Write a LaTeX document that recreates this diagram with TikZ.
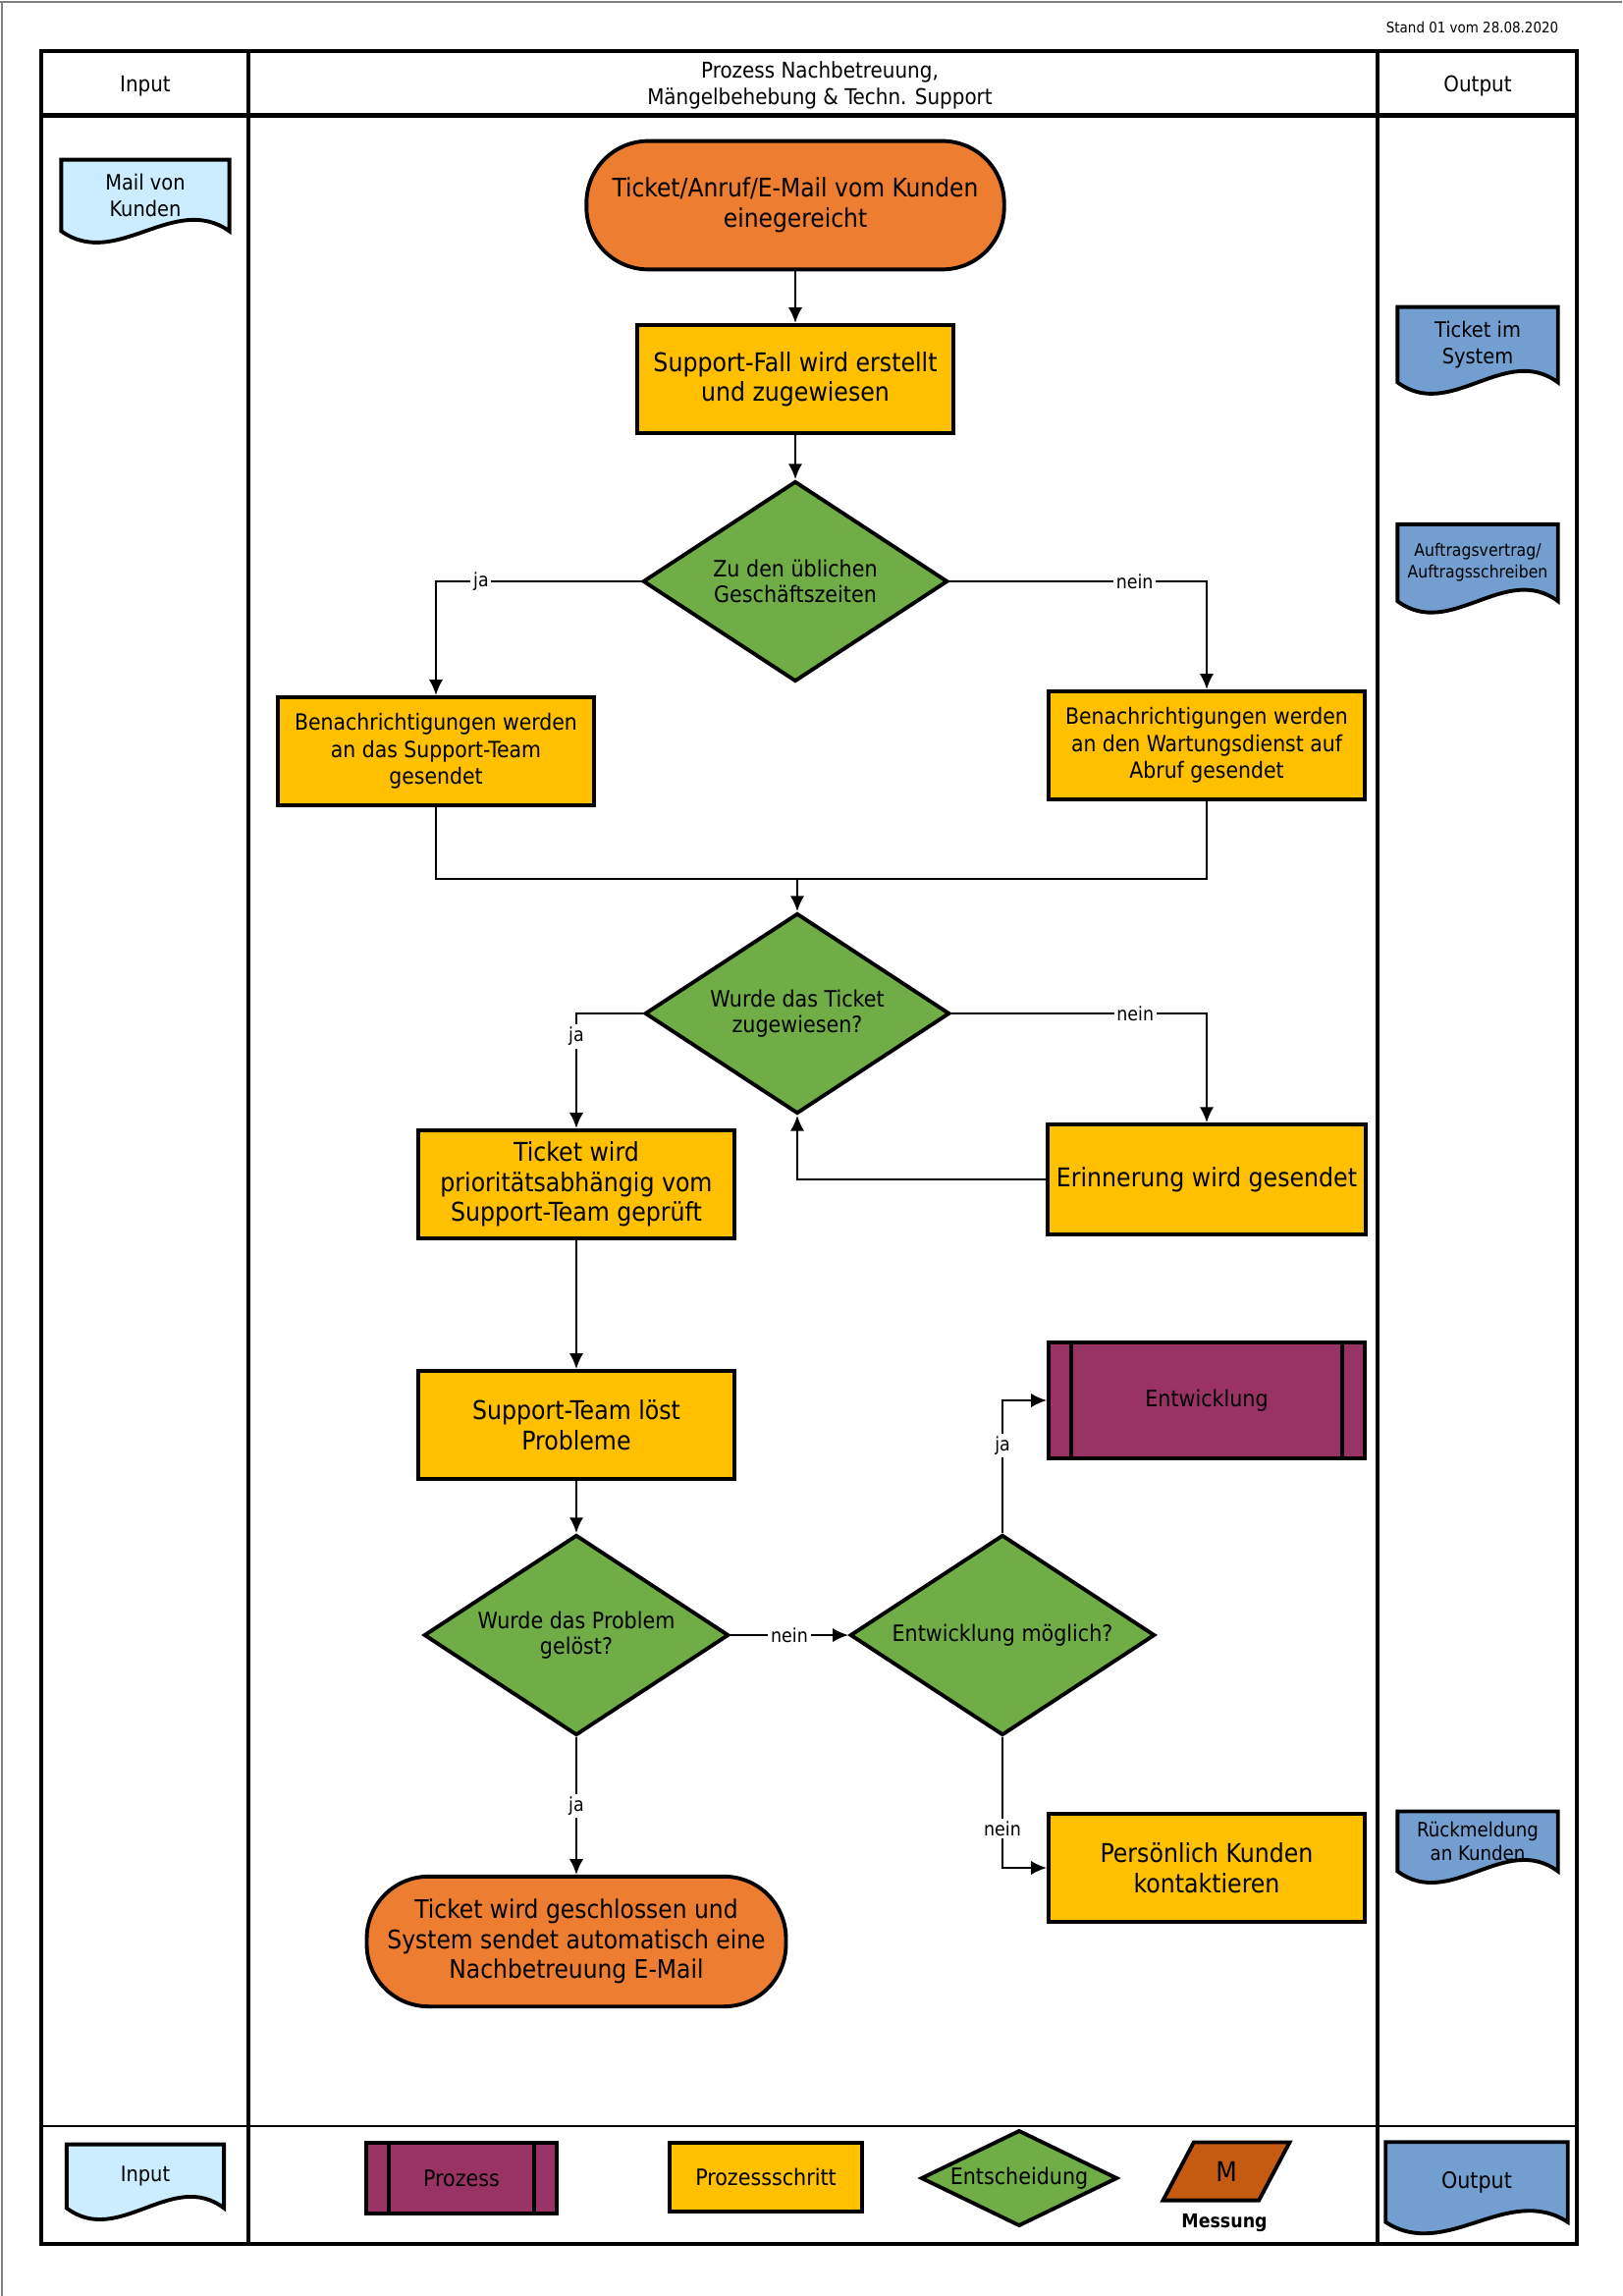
\documentclass[tikz,border=0pt]{standalone}
\usepackage{fontspec}
\setmainfont{DejaVu Sans Condensed}
\usepackage{tikz}
\usetikzlibrary{shapes.geometric, arrows.meta, positioning, calc, backgrounds}

\definecolor{termorange}{HTML}{ED7D31}
\definecolor{stepyellow}{HTML}{FFC000}
\definecolor{decgreen}{HTML}{70AD47}
\definecolor{procpurple}{HTML}{993366}
\definecolor{inblue}{HTML}{CCECFF}
\definecolor{outblue}{HTML}{729FCF}
\definecolor{messbrown}{HTML}{C55A11}

\begin{document}
\begin{tikzpicture}[x=0.0127cm, y=-0.0127cm,
            frame/.style={line width=1.4pt},
            term/.style={rectangle, rounded corners=0.8cm, draw, line width=1.4pt, fill=termorange, align=center, font=\fontsize{9.4}{11}\selectfont},
            stepbox/.style={rectangle, draw, line width=1.4pt, fill=stepyellow, align=center, minimum width=4.09cm, minimum height=1.4cm, font=\fontsize{9.5}{11}\selectfont},
            decision/.style={diamond, aspect=1.52, draw, line width=1.4pt, fill=decgreen, inner sep=0pt, align=center, minimum width=3.94cm, minimum height=2.59cm, font=\fontsize{8.3}{9.6}\selectfont},
            predef/.style={rectangle, draw, line width=1.4pt, fill=procpurple, align=center, font=\fontsize{8.3}{9.6}\selectfont,
                path picture={
                    \draw[line width=1.4pt] ([xshift=0.29cm]path picture bounding box.north west) -- ([xshift=0.29cm]path picture bounding box.south west);
                    \draw[line width=1.4pt] ([xshift=-0.29cm]path picture bounding box.north east) -- ([xshift=-0.29cm]path picture bounding box.south east);}},
            doc/.style={rectangle, inner sep=1pt, align=center, font=\fontsize{7.8}{9.5}\selectfont},
            lbl/.style={fill=white, inner sep=1pt, font=\fontsize{7}{8}\selectfont},
            arrow/.style={-{Latex[length=2mm,width=1.8mm]}, line width=0.7pt},
            link/.style={line width=0.7pt}
        ]
\useasboundingbox (0,0) rectangle (1652,2338);

% Page edge
            \draw[gray, line width=0.6pt] (0,2) -- (1652,2);
            \draw[gray, line width=0.6pt] (2,2) -- (2,2338);

% Table
            \draw[frame] (42,52) rectangle (1606,2285);
            \draw[line width=1.8pt] (42,118) -- (1606,118);
            \draw[frame] (253,52) -- (253,2285);
            \draw[frame] (1403,52) -- (1403,2285);
            \draw[line width=1pt] (42,2165) -- (1606,2165);

            \node[anchor=east, font=\fontsize{5.4}{6.5}\selectfont] (stand) at (1597,28) {Stand 01 vom 28.08.2020};
            \node[font=\fontsize{8}{9.5}\selectfont] (hin) at (148,88) {Input};
            \node[align=center, font=\fontsize{8}{9.8}\selectfont] (hproc) at (835,87) {Prozess Nachbetreuung,\\Mängelbehebung \& Techn. Support};
            \node[font=\fontsize{8}{9.5}\selectfont] (hout) at (1505,88) {Output};

% Input / Output documents
            \node[doc, minimum width=2.16cm, minimum height=0.91cm] (mail) at (148,199) {Mail von\\Kunden};
            \node[doc, minimum width=2.06cm, minimum height=0.96cm] (ticketsys) at (1505,351) {Ticket im\\System};
            \node[doc, minimum width=2.06cm, minimum height=0.98cm, font=\fontsize{6.3}{8}\selectfont] (auftrag) at (1505,573) {Auftragsvertrag/\\Auftragsschreiben};
            \node[doc, minimum width=2.06cm, minimum height=0.76cm, font=\fontsize{7.3}{8.6}\selectfont] (rueck) at (1505,1875) {Rückmeldung\\an Kunden};

% Process
            \node[term, minimum width=5.4cm, minimum height=1.66cm] (start) at (810,209) {Ticket/Anruf/E-Mail vom Kunden\\einegereicht};
            \node[stepbox] (create) at (810,386) {Support-Fall wird erstellt\\und zugewiesen};
            \node[decision] (hours) at (810,592) {Zu den üblichen\\Geschäftszeiten};
            \node[stepbox, font=\fontsize{8.2}{9.9}\selectfont] (notteam) at (444,765) {Benachrichtigungen werden\\an das Support-Team\\gesendet};
            \node[stepbox, font=\fontsize{8.2}{9.9}\selectfont] (notwart) at (1229,759) {Benachrichtigungen werden\\an den Wartungsdienst auf\\Abruf gesendet};
            \coordinate (merge) at (812,895);
            \node[decision] (assigned) at (812,1032) {Wurde das Ticket\\zugewiesen?};
            \node[stepbox] (check) at (587,1206) {Ticket wird\\prioritätsabhängig vom\\Support-Team geprüft};
            \node[stepbox, minimum height=1.42cm] (remind) at (1229,1201) {Erinnerung wird gesendet};
            \node[stepbox] (solve) at (587,1451) {Support-Team löst\\Probleme};
            \node[decision] (solved) at (587,1665) {Wurde das Problem\\gelöst?};
            \node[decision] (devpossible) at (1021,1665) {Entwicklung möglich?};
            \node[predef, minimum width=4.09cm, minimum height=1.5cm] (dev) at (1229,1426) {Entwicklung};
            \node[stepbox] (contact) at (1229,1902) {Persönlich Kunden\\kontaktieren};
            \node[term, minimum width=5.42cm, minimum height=1.68cm] (close) at (587,1977) {Ticket wird geschlossen und\\System sendet automatisch eine\\Nachbetreuung E-Mail};

% Connections
            \draw[arrow] (start) -- (create);
            \draw[arrow] (create) -- (hours);
            \draw[arrow] (hours.west) -| node[lbl, pos=0.39] {ja} (notteam.north);
            \draw[arrow] (hours.east) -| node[lbl, pos=0.36] {nein} (notwart.north);
            \draw[link] (notteam.south) |- (merge) -| (notwart.south);
            \draw[arrow] (merge) -- (assigned.north);
            \draw[arrow] (assigned.west) -| node[lbl, pos=0.6] {ja} (check.north);
            \draw[arrow] (assigned.east) -| node[lbl, pos=0.36] {nein} (remind.north);
            \draw[arrow] (remind.west) -| (assigned.south);
            \draw[arrow] (check) -- (solve);
            \draw[arrow] (solve) -- (solved);
            \draw[arrow] (solved.east) -- node[lbl] {nein} (devpossible.west);
            \draw[arrow] (devpossible.north) |- node[lbl, pos=0.33] {ja} (dev.west);
            \draw[arrow] (devpossible.south) |- node[lbl, pos=0.35] {nein} (contact.west);
            \draw[arrow] (solved.south) -- node[lbl] {ja} (close.north);

% Legend
            \node[doc, minimum width=2.02cm, minimum height=0.81cm] (lin) at (148,2216) {Input};
            \node[predef, minimum width=2.46cm, minimum height=0.91cm] (lproz) at (470,2218) {Prozess};
            \node[stepbox, minimum width=2.48cm, minimum height=0.88cm, font=\fontsize{8.3}{9.6}\selectfont] (lschritt) at (780,2217) {Prozessschritt};
            \node[decision, aspect=2.05, minimum width=2.54cm, minimum height=1.24cm] (lent) at (1038,2218) {Entscheidung};
            \node[trapezium, trapezium left angle=64, trapezium right angle=116, trapezium stretches=true, draw, line width=1.4pt, fill=messbrown, minimum width=1.64cm, minimum height=0.75cm, font=\fontsize{10}{12}\selectfont] (lmess) at (1249,2211) {M};
            \node[font=\bfseries\fontsize{7}{8}\selectfont] (lmesstext) at (1247,2264) {Messung};
            \node[doc, minimum width=2.34cm, minimum height=1.02cm, font=\fontsize{8.3}{9.6}\selectfont] (lout) at (1504,2222) {Output};

% Document shapes
            \begin{scope}[on background layer]
            \foreach \d/\c in {mail/inblue, ticketsys/outblue, auftrag/outblue, rueck/outblue, lin/inblue, lout/outblue}
                \draw[line width=1.4pt, fill=\c] (\d.south east) -- (\d.north east) -- (\d.north west) -- (\d.south west)
                    .. controls ($(\d.south west)!0.33!(\d.south east)+(0,40)$) and ($(\d.south west)!0.67!(\d.south east)+(0,-40)$) .. (\d.south east) -- cycle;
            \end{scope}

        \end{tikzpicture}
\end{document}
